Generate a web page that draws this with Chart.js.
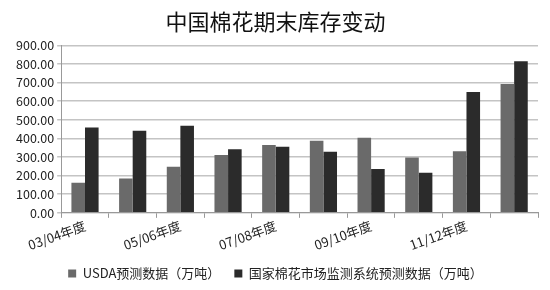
<!DOCTYPE html>
<html>
<head>
<meta charset="utf-8">
<script src="https://cdn.jsdelivr.net/npm/chart.js@4"></script>
<style>
  html, body { margin: 0; padding: 0; background: #fff; }
  #wrap { width: 550px; height: 290px; }
</style>
</head>
<body>
<div id="wrap"><canvas id="stockChart"></canvas></div>
<script>
const seasons = ['03/04年度', '04/05年度', '05/06年度', '06/07年度', '07/08年度',
                 '08/09年度', '09/10年度', '10/11年度', '11/12年度', '12/13年度'];
const usdaValues = [162, 184, 248, 311, 365, 387, 403, 297, 331, 693];
const chinaValues = [459, 441, 468, 342, 355, 328, 236, 216, 650, 815];
const yTicks = [0, 100, 200, 300, 400, 500, 600, 700, 800, 900];

const fontFamily = '"Noto Sans CJK SC", "DejaVu Sans", sans-serif';

const ctx = document.getElementById('stockChart').getContext('2d');
new Chart(ctx, {
  type: 'bar',
  data: {
    labels: seasons,
    datasets: [
      {
        label: 'USDA预测数据（万吨）',
        data: usdaValues,
        backgroundColor: '#6a6a6a',
        barPercentage: 1,
        categoryPercentage: 0.57
      },
      {
        label: '国家棉花市场监测系统预测数据（万吨）',
        data: chinaValues,
        backgroundColor: '#2b2b2b',
        barPercentage: 1,
        categoryPercentage: 0.57
      }
    ]
  },
  options: {
    responsive: true,
    maintainAspectRatio: false,
    animation: false,
    layout: { padding: { left: 13, right: 12, top: 6, bottom: 0 } },
    plugins: {
      title: {
        display: true,
        text: '中国棉花期末库存变动',
        color: '#111',
        font: { family: fontFamily, size: 22, weight: 'normal' },
        padding: { top: 2, bottom: 11 }
      },
      legend: {
        position: 'bottom',
        labels: {
          boxWidth: 8,
          boxHeight: 8,
          padding: 14,
          color: '#222',
          font: { family: fontFamily, size: 13 }
        }
      },
      tooltip: { enabled: false }
    },
    scales: {
      x: {
        grid: { drawOnChartArea: false, offset: true, tickLength: 5, color: '#999' },
        border: { color: '#999' },
        ticks: {
          autoSkip: false,
          maxRotation: 20,
          minRotation: 20,
          padding: 0,
          color: '#222',
          font: { family: fontFamily, size: 13 },
          callback: function (value, index) {
            return index % 2 === 0 ? seasons[index] : '';
          }
        }
      },
      y: {
        min: 0,
        max: 900,
        afterBuildTicks: function (axis) {
          axis.ticks = yTicks.map(v => ({ value: v }));
        },
        grid: { color: '#c4c4c4', lineWidth: 1.5, tickLength: 4 },
        border: { color: '#999' },
        ticks: {
          color: '#222',
          font: { family: fontFamily, size: 12.5 },
          callback: v => Number(v).toFixed(2)
        }
      }
    }
  }
});
</script>
</body>
</html>
